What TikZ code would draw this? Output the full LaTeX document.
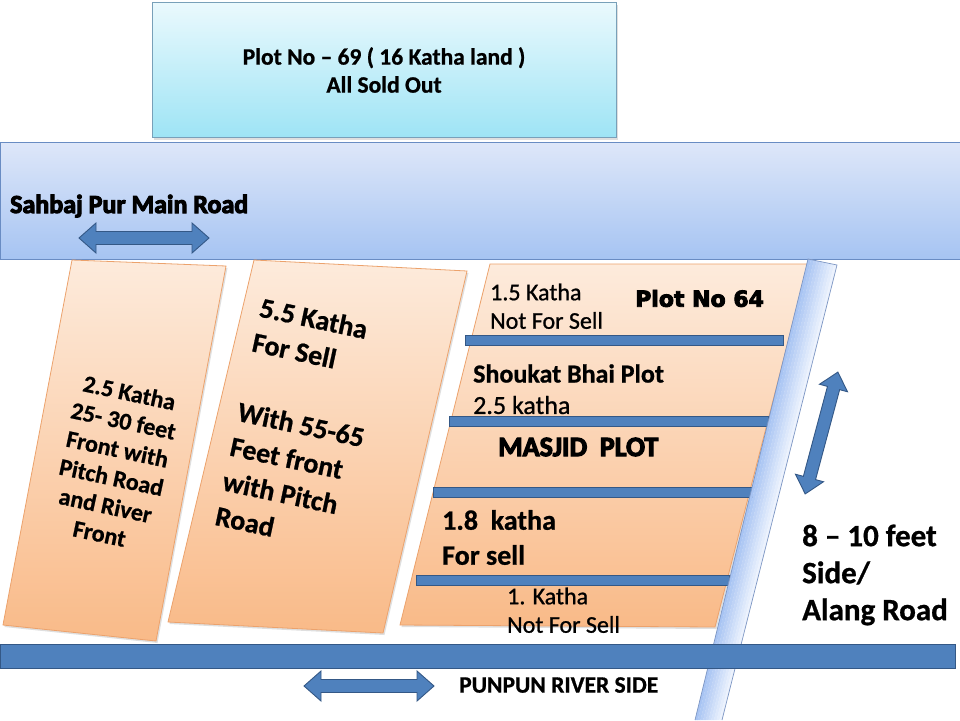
\documentclass[tikz,border=0pt]{standalone}
\usepackage{fontspec}
\setmainfont{Carlito}[BoldFeatures={FakeBold=0.8}]
\newfontfamily\heavyfont{Carlito}[BoldFeatures={FakeBold=4}]
\newfontfamily\midfont{Carlito}[FakeBold=0.9]
\newfontfamily\blackfont{DejaVu Sans}[BoldFeatures={FakeBold=4}]
\usepackage{tikz}
\usetikzlibrary{shadows}
\usepackage{xcolor}

\definecolor{titletop}{RGB}{234,249,253}
\definecolor{titlebot}{RGB}{158,228,245}
\definecolor{titleline}{RGB}{120,160,185}
\definecolor{roadtop}{RGB}{222,231,249}
\definecolor{roadbot}{RGB}{166,196,242}
\definecolor{roadline}{RGB}{105,140,195}
\definecolor{plottop}{RGB}{253,235,220}
\definecolor{plotbot}{RGB}{249,186,136}
\definecolor{plotline}{RGB}{236,162,108}
\definecolor{barblue}{RGB}{79,129,189}
\definecolor{barline}{RGB}{52,88,134}
\definecolor{stripblue}{RGB}{168,196,243}
\definecolor{stripwhite}{RGB}{236,242,253}
\definecolor{stripline}{RGB}{125,150,195}

\begin{document}
\begin{tikzpicture}[x=1pt, y=-1pt]
    % styles
    \tikzstyle{titlebox}=[
      draw=titleline,
      top color=titletop,
      bottom color=titlebot,
      minimum width=464pt,
      minimum height=135pt,
      align=center,
      inner sep=0pt,
      drop shadow={opacity=0.25, shadow xshift=1.5pt, shadow yshift=-2pt}
    ]
    \tikzstyle{plot}=[
      draw=plotline,
      line width=0.8pt,
      top color=plottop,
      bottom color=plotbot,
      drop shadow={opacity=0.25, shadow xshift=1.5pt, shadow yshift=-2pt}
    ]
    \tikzstyle{bar}=[
      draw=barline,
      fill=barblue,
      line width=0.9pt
    ]
    \tikzstyle{arrowfill}=[
      draw=barline,
      fill=barblue,
      line width=0.9pt,
      line join=miter
    ]
    \tikzstyle{lbl}=[inner sep=0pt, anchor=west]
    \tikzset{
      pics/dblarrow/.style={code={
        \draw[arrowfill] (-65,0) -- (-48,-15) -- (-48,-6.5) -- (48,-6.5)
          -- (48,-15) -- (65,0) -- (48,15) -- (48,6.5) -- (-48,6.5)
          -- (-48,15) -- cycle;
      }}
    }

    \useasboundingbox (0,0) rectangle (960,720);
    \fill[white] (0,0) rectangle (960,720);

    % Main road band
    \draw[roadline, line width=1pt, top color=roadtop, bottom color=roadbot]
      (0,142) rectangle (960,259);

    % Top plot
    \node[titlebox, font=\bfseries\fontsize{23.5}{28}\selectfont] (title) at (384,70)
      {Plot No – 69 ( 16 Katha land )\\All Sold Out};

    % Plots
    \draw[plot] (72,260) -- (226,266) -- (156,641) -- (3,625) -- cycle;
    \draw[plot] (254,260) -- (467,271) -- (383,633) -- (168,622) -- cycle;
    \draw[plot] (490,264) -- (808,264) -- (715,627) -- (400,625) -- cycle;

    % Dividers in the right plot
    \draw[bar] (465,335) rectangle (783,345);
    \draw[bar] (449,416) rectangle (768,426);
    \draw[bar] (433,487) rectangle (752,497);
    \draw[bar] (416,575) rectangle (729,585);

    % Side road strip
    \foreach \i in {0,...,9} {
      \pgfmathsetmacro\a{\i/10}
      \pgfmathsetmacro\b{(\i+1.05)/10}
      \pgfmathsetmacro\c{100-\i*100/9}
      \fill[stripblue!\c!stripwhite] (808+29*\a,259+6*\a) -- (808+29*\b,259+6*\b)
        -- (695+27*\b,720) -- (695+27*\a,720) -- cycle;
    }
    \draw[stripline, line width=0.7pt] (695,720) -- (808,259) -- (837,265) -- (722,720);

    % River bar
    \draw[bar, line width=1pt] (0,644) rectangle (955,668);

    % Arrows
    \pic at (144,238) {dblarrow};
    \pic at (369,686) {dblarrow};
    \pic[rotate=75, scale=0.97] at (821.5,433) {dblarrow};

    % Road labels
    \node[inner sep=0pt, anchor=base west, font=\heavyfont\bfseries\fontsize{26}{30}\selectfont]
      (mainroad) at (10,213) {Sahbaj Pur Main Road};
    \node[lbl, font=\bfseries\fontsize{23.5}{28}\selectfont]
      (river) at (459,685) {PUNPUN RIVER SIDE};
    \node[lbl, align=left, font=\bfseries\fontsize{31}{37}\selectfont]
      (sideroad) at (802,575) {8 – 10 feet\\Side/\\Alang Road};

    % Left plot text
    \node[inner sep=0pt, rotate=-12, align=center, font=\bfseries\fontsize{24}{28.8}\selectfont]
      (leftplot) at (114.5,463)
      {2.5 Katha\\25- 30 feet\\Front with\\Pitch Road\\and River\\Front};

    % Middle plot text
    \node[inner sep=0pt, rotate=-12, anchor=west, align=left, font=\bfseries\fontsize{28}{35.5}\selectfont]
      (midplot) at (238,411)
      {5.5 Katha\\For Sell\\[35.5pt]With 55-65\\Feet front\\with Pitch\\Road};

    % Right plot text
    \node[lbl, font=\midfont\fontsize{24}{28}\selectfont] (topsize) at (490,292) {1.5 Katha};
    \node[lbl, font=\midfont\fontsize{24}{28}\selectfont] (topsell) at (490,320.5) {Not For Sell};
    \node[lbl, font=\blackfont\bfseries\fontsize{22}{26}\selectfont] (plotno) at (635,298.5) {Plot No 64};
    \node[lbl, font=\bfseries\fontsize{26}{30}\selectfont] (shoukat) at (473,373.5) {Shoukat Bhai Plot};
    \node[lbl, font=\midfont\fontsize{26}{30}\selectfont] (shoukatsize) at (473,405) {2.5 katha};
    \node[lbl, font=\heavyfont\bfseries\fontsize{28}{32}\selectfont] (masjid) at (498,447) {MASJID\ \ PLOT};
    \node[lbl, font=\bfseries\fontsize{28}{32}\selectfont] (forsize) at (442,520) {1.8\ \ katha};
    \node[lbl, font=\bfseries\fontsize{28}{32}\selectfont] (forsell) at (442,555) {For sell};
    \node[lbl, font=\midfont\fontsize{24}{28}\selectfont] (lastsize) at (507,596) {1. Katha};
    \node[lbl, font=\midfont\fontsize{24}{28}\selectfont] (lastsell) at (507,624.5) {Not For Sell};
\end{tikzpicture}
\end{document}
